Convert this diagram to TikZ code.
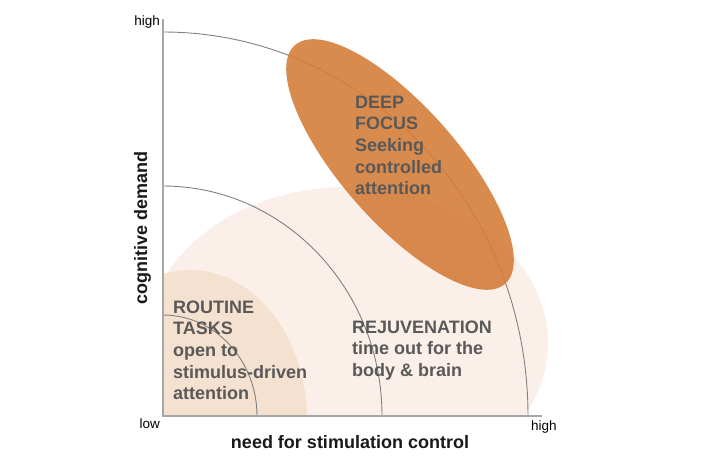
\documentclass[tikz,border=0pt]{standalone}
\usepackage{fontspec}
\setmainfont{Liberation Sans}
\definecolor{pale}{HTML}{FBF0E9}
\definecolor{routine}{HTML}{F5E1D0}
\definecolor{deep}{HTML}{D57D3A}
\definecolor{txt}{HTML}{595959}
\definecolor{axisgray}{HTML}{A6A6A6}
\definecolor{arcgray}{HTML}{808080}
\tikzset{
  zonetext/.style={anchor=base west, inner sep=0pt, align=left, text=txt, font=\bfseries\fontsize{18}{21.7}\selectfont},
  ticklabel/.style={inner sep=0pt, font=\fontsize{13.5}{16}\selectfont, text=black},
  axistitle/.style={inner sep=0pt, font=\bfseries\fontsize{18}{21}\selectfont, text=black!90},
  axisline/.style={draw=axisgray, line width=1.5pt},
  ring/.style={draw=arcgray, line width=0.9pt},
}
\begin{document}
\begin{tikzpicture}[x=1pt,y=-1pt]
\useasboundingbox (0,0) rectangle (720,464);
% zones
\begin{scope}
  \clip (163,0) rectangle (720,416);
  \fill[pale] (347,343) ellipse [x radius=201pt, y radius=156pt];
  \fill[routine] (190,420) ellipse [x radius=117pt, y radius=150pt];
\end{scope}
% rings
\draw[ring] (528,416) arc[start angle=0, end angle=90, x radius=365pt, y radius=384pt];
\draw[ring] (382,416) arc[start angle=0, end angle=90, x radius=219pt, y radius=230pt];
\draw[ring] (257,416) arc[start angle=0, end angle=90, x radius=94pt, y radius=101pt];
% deep focus
\fill[deep, fill opacity=0.9] (400,164.5) ellipse [x radius=159pt, y radius=58pt, rotate=-48.6];
% axes
\coordinate (origin) at (163,416);
\coordinate (ytop) at (163,19);
\coordinate (xend) at (542,416);
\draw[axisline] (ytop) -- (origin) -- (xend);
% labels
\node[ticklabel, anchor=base east] (yhigh) at (160,25) {high};
\node[ticklabel, anchor=base east] (low) at (160,428) {low};
\node[ticklabel, anchor=base west] (xhigh) at (531,430) {high};
\node[axistitle, anchor=base] (xtitle) at (350,448) {need for stimulation control};
\node[axistitle, anchor=base, rotate=90] (ytitle) at (147,228) {cognitive demand};
% zone texts (anchor = baseline of last line)
\node[zonetext] (deeptext) at (355,194.8) {DEEP\\FOCUS\\Seeking\\controlled\\attention};
\node[zonetext] (routinetext) at (173,399.8) {ROUTINE\\TASKS\\open to\\stimulus-driven\\attention};
\node[zonetext] (rejutext) at (352,376.4) {REJUVENATION\\time out for the\\body \& brain};
\end{tikzpicture}
\end{document}
